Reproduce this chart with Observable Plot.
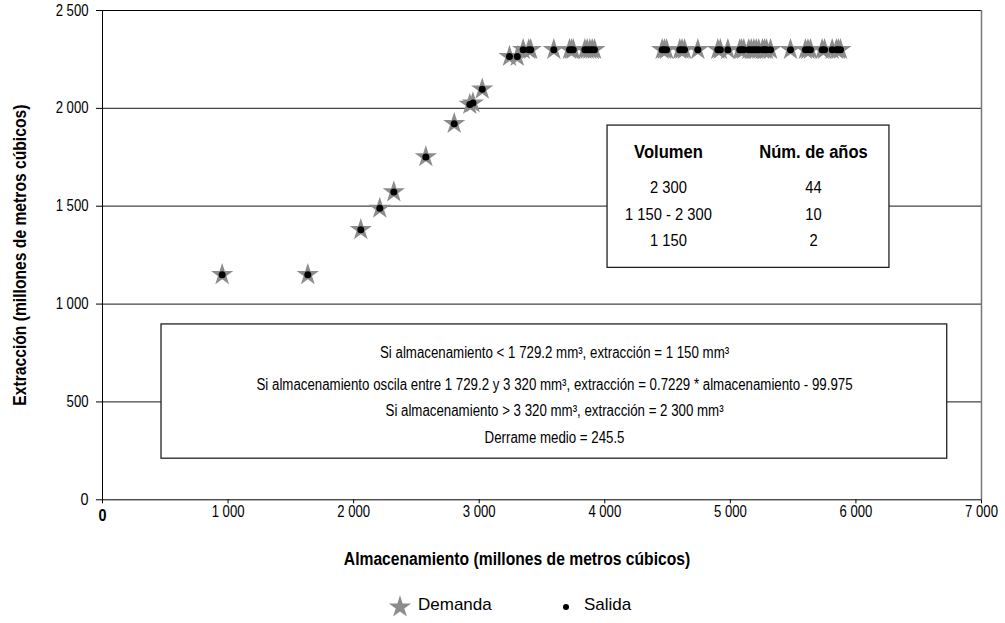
<!DOCTYPE html>
<html><head><meta charset="utf-8">
<script src="https://cdn.jsdelivr.net/npm/d3@7"></script>
<script src="https://cdn.jsdelivr.net/npm/@observablehq/plot@0.6"></script>
<style>
body{margin:0;background:#fff;font-family:"Liberation Sans",Arial,sans-serif;}
#chart{position:relative;width:1005px;}
.legend{position:relative;width:1005px;height:43px;font-size:17px;color:#000;}
.legend span{position:absolute;top:15px;line-height:20px;}
.legend svg{position:absolute;}
</style></head><body><div id="chart"></div>
<script>
// ---- data ----
const almacenamiento = [953,1635,2057,2208,2320,2575,2801,2925,2950,3024,3241,3303,
  3350,3395,3410,3594,3719,3735,3749,3841,3860,3881,3900,3918,4457,4475,4492,4597,4615,4635,
  4741,4900,4920,4980,5075,5090,5107,5147,5167,5187,5206,5226,5256,5272,5288,5320,5479,5598,
  5618,5638,5731,5750,5811,5845,5860,5877];
const extraccion = [1150,1150,1380,1489,1573,1752,1922,2020,2027,2098,2265,2265,
  2300,2300,2300,2300,2300,2300,2300,2300,2300,2300,2300,2300,2300,2300,2300,2300,2300,2300,
  2300,2300,2300,2300,2300,2300,2300,2300,2300,2300,2300,2300,2300,2300,2300,2300,2300,2300,
  2300,2300,2300,2300,2300,2300,2300,2300];
const series = ["Demanda","Salida"];
const xTicks = [0,1000,2000,3000,4000,5000,6000,7000];
const yTicks = [0,500,1000,1500,2000,2500];
const tablaHeader = ["Volumen","Núm. de años"];
const tablaVolumen = ["2 300","1 150 - 2 300","1 150"];
const tablaAnios = ["44","10","2"];
const reglas = [
  "Si almacenamiento < 1 729.2 mm³, extracción = 1 150 mm³",
  "Si almacenamiento oscila entre 1 729.2 y 3 320 mm³, extracción = 0.7229 * almacenamiento - 99.975",
  "Si almacenamiento > 3 320 mm³, extracción = 2 300 mm³",
  "Derrame medio = 245.5"
];
const xLabel = "Almacenamiento (millones de metros cúbicos)";
const yLabel = "Extracción (millones de metros cúbicos)";

// ---- annotation layout (data units) ----
const tablaBox = {x1:4022, x2:6267, y1:1185, y2:1912};
const tablaCols = [4507, 5662];
const tablaRowsY = [1776, 1596, 1458, 1325];
const reglasBox = {x1:470, x2:6727, y1:210, y2:896};
const reglasX = 3600;
const reglasY = [752, 586, 452, 318];

const puntos = almacenamiento.map((a,i)=>({almacenamiento:a, extraccion:extraccion[i]}));
const fmt = d => d3.format(",")(d).replace(/,/g, " ");
const FONT = '"Liberation Sans",Arial,sans-serif';

const tablaHead = tablaHeader.map((t,j)=>({x:tablaCols[j], y:tablaRowsY[0], t}));
const tablaBody = [
  ...tablaVolumen.map((t,i)=>({x:tablaCols[0], y:tablaRowsY[i+1], t})),
  ...tablaAnios.map((t,i)=>({x:tablaCols[1], y:tablaRowsY[i+1], t}))
];
const reglasText = reglas.map((t,i)=>({x:reglasX, y:reglasY[i], t}));

const plot = Plot.plot({
  width:1005, height:580, marginLeft:102, marginRight:24, marginTop:10, marginBottom:80.7,
  style:{fontFamily:FONT, fontSize:"16px", color:"#000", background:"#fff", overflow:"visible"},
  x:{domain:[0,7000]}, y:{domain:[0,2500]},
  marks:[
    Plot.ruleY(yTicks.filter(d=>d>0 && d<2500), {stroke:"#444", strokeWidth:1.2}),
    Plot.ruleY([2500], {stroke:"#000"}),
    Plot.ruleY([0], {stroke:"#000"}),
    Plot.ruleX([0], {stroke:"#000"}),
    Plot.ruleX([7000], {stroke:"#777", strokeWidth:1.5}),
    Plot.axisY({ticks:yTicks, tickFormat:fmt, tickSize:6, tickPadding:8, label:null, fontSize:16}),
    Plot.axisX({ticks:xTicks, tickFormat:d=> d===0 ? "" : fmt(d), tickSize:4, tickPadding:2, label:null, fontSize:16}),
    Plot.text([0], {x:d=>d, frameAnchor:"bottom", dy:21, text:d=>"0", fontWeight:"bold", fontSize:16}),
    Plot.text([xLabel], {frameAnchor:"bottom", dx:-25, dy:65, fontWeight:"bold", fontSize:18}),
    Plot.text([yLabel], {frameAnchor:"left", textAnchor:"middle", dx:-82, rotate:-90, fontWeight:"bold", fontSize:18}),
    Plot.rect([tablaBox], {x1:"x1", x2:"x2", y1:"y1", y2:"y2", fill:"#fff", stroke:"#222", strokeWidth:1.3}),
    Plot.text(tablaHead, {x:"x", y:"y", text:"t", fontWeight:"bold", fontSize:18}),
    Plot.text(tablaBody, {x:"x", y:"y", text:"t", fontSize:16}),
    Plot.rect([reglasBox], {x1:"x1", x2:"x2", y1:"y1", y2:"y2", fill:"#fff", stroke:"#222", strokeWidth:1.3}),
    Plot.text(reglasText, {x:"x", y:"y", text:"t", fontSize:16}),
    Plot.dot(puntos, {x:"almacenamiento", y:"extraccion", symbol:"star", r:7, fill:"#8c8c8c", stroke:"none"}),
    Plot.dot(puntos, {x:"almacenamiento", y:"extraccion", r:3.5, fill:"#000", stroke:"none"})
  ]
});
document.getElementById("chart").appendChild(plot);

// condense text (narrow typeface look), by content group
const condense = new Map();
xTicks.concat(yTicks).forEach(v => condense.set(fmt(v), 0.82));
condense.set("0", 0.9);
condense.set(xLabel, 0.87); condense.set(yLabel, 0.87);
tablaHeader.concat(tablaVolumen, tablaAnios).forEach(s => condense.set(s, 0.92));
reglas.forEach(s => condense.set(s, 0.83));
plot.querySelectorAll("text").forEach(t => {
  const K = condense.get(t.textContent.trim());
  if (!K) return;
  const tspans = t.querySelectorAll("tspan");
  const els = tspans.length ? Array.from(tspans) : [t];
  els.forEach(el => {
    const L = el.getComputedTextLength();
    if (L > 0) { el.setAttribute("textLength", (L*K).toFixed(2)); el.setAttribute("lengthAdjust","spacingAndGlyphs"); }
  });
});

// legend
const leg = document.createElement("div");
leg.className = "legend";
const starPath = d3.symbol(d3.symbolStar, Math.PI*7*7)();
const circlePath = d3.symbol(d3.symbolCircle, Math.PI*3*3)();
leg.innerHTML = `
<svg width="24" height="24" style="left:388px;top:15px"><path d="${starPath}" transform="translate(12,12)" fill="#8c8c8c"/></svg>
<span style="left:418px">${series[0]}</span>
<svg width="12" height="12" style="left:560px;top:21px"><path d="${circlePath}" transform="translate(6,6)" fill="#000"/></svg>
<span style="left:584px">${series[1]}</span>`;
document.getElementById("chart").appendChild(leg);
</script></body></html>
